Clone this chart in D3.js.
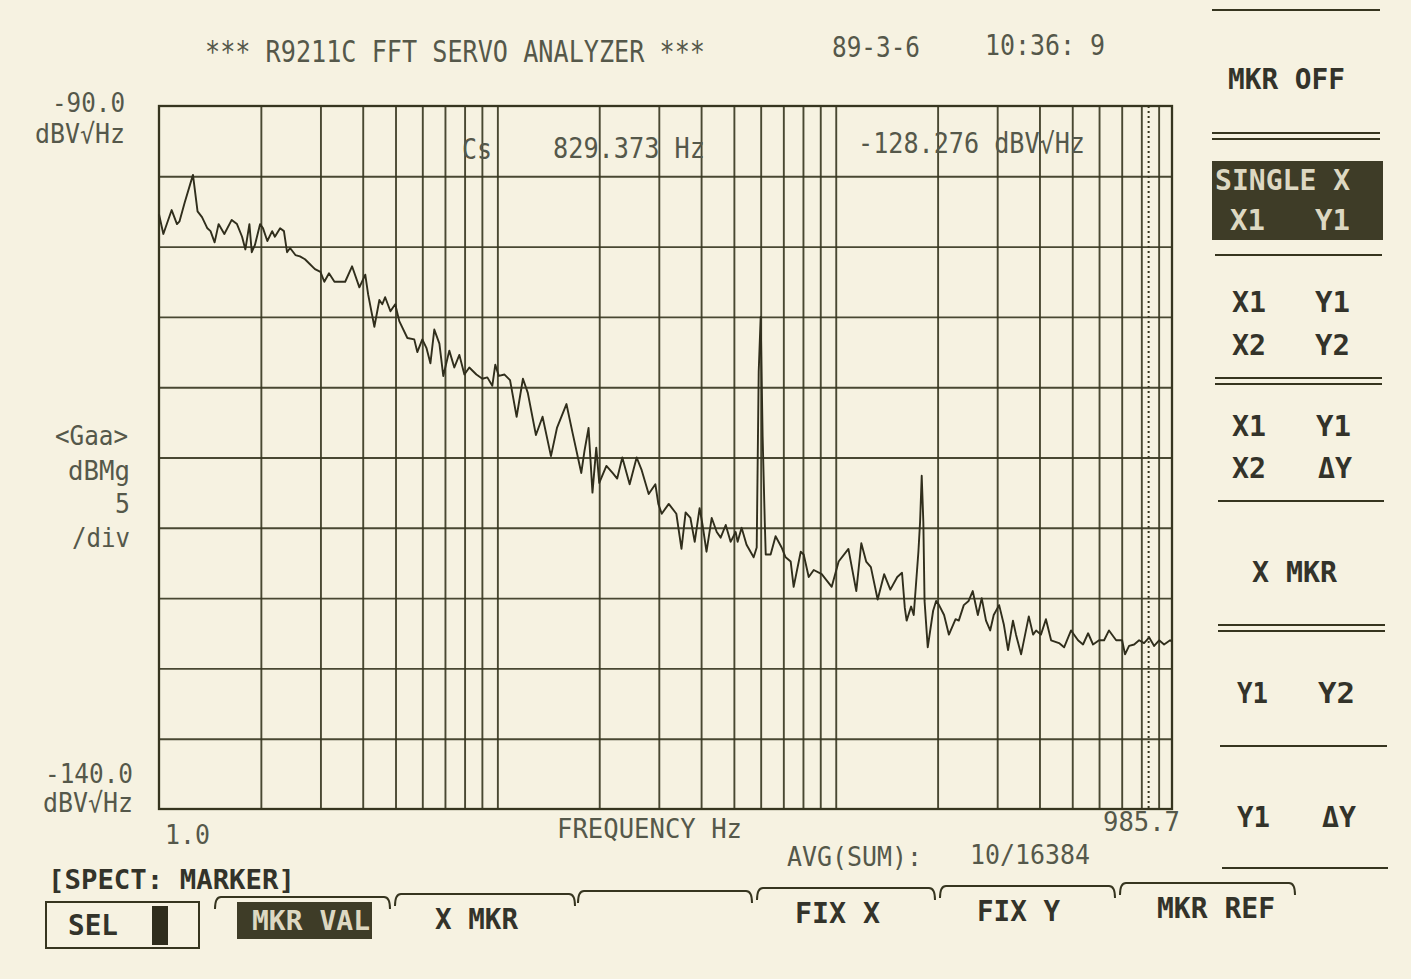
<!DOCTYPE html>
<html><head><meta charset="utf-8">
<script src="https://cdn.jsdelivr.net/npm/d3@7"></script>
<style>
html,body{margin:0;padding:0;background:#f6f2e1;}
svg{display:block;}
</style></head><body>
<svg id="c" width="1411" height="979"></svg>
<script>
// ---------------- data ----------------
const freqHz = [
 1.00,1.03,1.09,1.13,1.15,1.19,1.26,1.30,1.34,1.39,1.42,1.46,1.50,1.56,1.64,1.70,1.76,1.80,1.85,1.88,
 1.92,1.99,2.03,2.09,2.16,2.20,2.28,2.34,2.39,2.44,2.53,2.61,2.70,2.78,2.89,3.00,3.08,3.18,3.30,3.55,
 3.72,3.91,4.07,4.15,4.33,4.48,4.57,4.66,4.83,4.99,
 5.13,5.42,5.68,5.80,6.00,6.17,6.34,6.51,6.74,6.92,7.21,7.46,7.72,7.99,8.26,8.67,9.03,9.34,9.66,9.86,
 10.1,10.5,10.9,11.4,11.9,12.3,13.0,13.6,14.4,15.0,16.0,16.7,17.7,18.1,18.6,19.1,19.6,20.0,21.0,21.9,
 22.6,23.4,24.6,25.8,26.7,
 28.0,29.3,29.9,30.6,32.1,33.8,35.0,36.0,37.2,38.3,39.6,40.4,41.5,43.0,44.5,45.7,47.3,48.9,50.6,51.3,
 52.7,54.5,57.2,58.4,59.2,60.0,60.8,61.7,62.1,64.2,66.4,69.2,71.1,73.6,75.1,78.8,80.4,83.2,86.1,90.9,
 97.3,102,109,115,119,123,127,133,139,
 145,152,157,160,162,167,170,175.5,177.5,179.5,181.5,183,187,194,198,202,209,216,226,231,
 239,247,254,263,270,278,286,293,304,314,323,334,341,353,372,383,391,404,418,433,
 457,473,496,520,538,557,576,600,621,642,674,702,716,736,762,788,815,844,873,903,
 934,973,985.7
];
const levelDb = [
 -97.7,-99.1,-97.4,-98.4,-98.2,-96.9,-94.9,-97.5,-97.9,-98.7,-98.9,-99.7,-98.4,-99.1,-98.1,-98.4,-99.3,-100.2,-98.4,-100.4,
 -99.9,-98.4,-98.7,-99.6,-98.9,-99.3,-98.7,-98.9,-100.4,-100.1,-100.6,-100.7,-100.9,-101.2,-101.6,-101.8,-102.5,-101.9,-102.5,-102.5,
 -101.4,-102.9,-102.0,-103.4,-105.7,-103.8,-104.1,-103.6,-104.6,-104.1,
 -105.3,-106.5,-106.6,-107.5,-106.6,-107.2,-108.3,-105.9,-106.9,-109.2,-107.4,-108.6,-107.7,-109.1,-108.6,-109.1,-109.4,-109.3,-109.9,-108.4,
 -109.2,-109.1,-109.5,-112.1,-109.4,-110.4,-113.4,-112.1,-114.9,-112.9,-111.2,-113.3,-116.1,-114.5,-112.9,-117.5,-114.3,-116.8,-115.6,-116.1,
 -116.5,-115.0,-116.9,-115.0,-115.9,
 -117.6,-116.9,-118.3,-119.0,-118.3,-119.0,-121.5,-118.9,-119.3,-121.0,-118.6,-119.8,-121.7,-119.3,-120.3,-120.7,-119.8,-121.0,-120.3,-121.0,
 -120.0,-121.2,-122.1,-121.4,-108.9,-105.0,-113.5,-119.6,-121.9,-121.9,-120.6,-121.4,-122.1,-122.4,-124.2,-121.7,-121.9,-123.5,-123.0,-123.3,
 -124.2,-122.4,-121.5,-124.5,-121.1,-122.4,-122.8,-125.1,-123.3,
 -124.4,-123.5,-123.2,-125.7,-126.6,-125.6,-126.2,-121.7,-119.6,-116.3,-119.6,-125.2,-128.5,-125.9,-125.2,-125.5,-126.2,-127.6,-126.5,-126.6,
 -125.5,-125.2,-124.5,-126.2,-125.0,-126.6,-127.3,-126.2,-125.5,-126.9,-128.7,-126.6,-127.6,-129.0,-126.3,-127.6,-127.3,-127.6,-126.5,-128.0,
 -128.2,-128.5,-127.3,-128.0,-128.3,-127.5,-128.3,-128.0,-128.0,-127.3,-128.0,-128.0,-129.0,-128.4,-128.3,-128.0,-128.2,-127.8,-128.4,-128.0,
 -128.3,-128.0,-128.1
];
const xDomain = [1.0, 985.7];
const yDomain = [-140, -90];
const gridFreqs = [2,3,4,5,6,7,8,9,10,20,30,40,50,60,70,80,90,100,200,300,400,500,600,700,800,900];
const levelTicks = [-135,-130,-125,-120,-115,-110,-105,-100,-95];
const yEndLabels = ["-90.0", "-140.0"];
const xEndLabels = ["1.0", "985.7"];
const markerHz = 829.373;
const markerText = ["Cs", "829.373 Hz", "-128.276 dBV\u221AHz"];
const menuRight = [["X1","Y1"],["X2","Y2"],["X1","Y1"],["X2","\u0394Y"],["Y1","Y2"],["Y1","\u0394Y"]];
const softKeys = ["MKR VAL","X MKR","","FIX X","FIX Y","MKR REF"];

// ---------------- drawing ----------------
const svg = d3.select("#c");
const INK = "#36351f", TXT = "#55584a", BOLD = "#33332a", PAPER = "#f6f2e1";
svg.append("rect").attr("width",1411).attr("height",979).attr("fill",PAPER);

const L=159, R=1172, T=106, B=809;
const x = d3.scaleLog().domain(xDomain).range([L,R]);
const y = d3.scaleLinear().domain(yDomain).range([B,T]);

// grid via axes
const gx = svg.append("g").attr("transform",`translate(0,${B})`)
  .call(d3.axisBottom(x).tickValues(gridFreqs).tickSize(-(B-T)).tickFormat(""));
const gy = svg.append("g").attr("transform",`translate(${L},0)`)
  .call(d3.axisLeft(y).tickValues(levelTicks).tickSize(-(R-L)).tickFormat(""));
[gx,gy].forEach(g=>{
  g.select(".domain").remove();
  g.selectAll(".tick line").attr("stroke",INK).attr("stroke-width",1.9).attr("opacity",0.9);
});
svg.append("rect").attr("x",L).attr("y",T).attr("width",R-L).attr("height",B-T)
  .attr("fill","none").attr("stroke",INK).attr("stroke-width",2.3);

// marker dotted line
svg.append("line").attr("x1",x(markerHz)+2).attr("x2",x(markerHz)+2).attr("y1",T).attr("y2",B)
  .attr("stroke",INK).attr("stroke-width",2).attr("stroke-dasharray","2,3");

// trace
const pts = freqHz.map((f,i)=>[f, levelDb[i]]);
svg.append("path").datum(pts)
  .attr("d", d3.line().x(d=>x(d[0])).y(d=>y(d[1])))
  .attr("fill","none").attr("stroke","#302e1c").attr("stroke-width",1.9).attr("stroke-linejoin","round");

// text helper
function label(str, x1, x2, base, size, opt={}){
  const t = svg.append("text").attr("x",x1).attr("y",base)
    .attr("font-family", "'DejaVu Sans Mono', monospace")
    .attr("font-size", size)
    .attr("font-weight", opt.bold ? "bold" : "normal")
    .attr("fill", opt.fill || (opt.bold ? BOLD : TXT))
    .text(str);
  if (x2 !== null) t.attr("textLength", x2-x1).attr("lengthAdjust","spacingAndGlyphs");
  return t;
}

// header
label("*** R9211C FFT SERVO ANALYZER ***", 205, 705, 62, 31);
label("89-3-6", 832, 920, 57, 29);
label("10:36: 9", 985, 1105, 55, 29);

// left axis labels
label(yEndLabels[0], 52, 125, 112, 27);
label("dBV\u221AHz", 35, 125, 143, 27);
label("<Gaa>", 55, 128, 445, 27);
label("dBMg", 68, 130, 480, 27);
label("5", 115, 130, 513, 27);
label("/div", 72, 130, 547, 27);
label(yEndLabels[1], 45, 133, 783, 27);
label("dBV\u221AHz", 43, 133, 812, 27);

// in-plot marker readout
label(markerText[0], 462, 492, 159, 28);
label(markerText[1], 553, 705, 158, 28);
label(markerText[2], 858, 1085, 153, 28);

// x axis labels
label(xEndLabels[0], 165, 210, 844, 27);
label("FREQUENCY Hz", 557, 742, 838, 27);
label(xEndLabels[1], 1103, 1180, 831, 27);
label("AVG(SUM):", 787, 922, 866, 26);
label("10/16384", 970, 1090, 864, 26);
label("[SPECT: MARKER]", 48, 295, 889, 27, {bold:true});

// right menu
function hline(x1,x2,yy,w=2){
  svg.append("line").attr("x1",x1).attr("x2",x2).attr("y1",yy).attr("y2",yy)
    .attr("stroke",INK).attr("stroke-width",w);
}
hline(1212,1380,10);
label("MKR OFF", 1228, 1345, 89, 28, {bold:true});
hline(1212,1380,133); hline(1212,1380,139);
svg.append("rect").attr("x",1212).attr("y",161).attr("width",171).attr("height",79).attr("fill","#3e3c27");
label("SINGLE X", 1215, 1350, 190, 28, {bold:true, fill:"#ddd8c2"});
label("X1", 1230, 1265, 230, 28, {bold:true, fill:"#ddd8c2"});
label("Y1", 1315, 1350, 230, 28, {bold:true, fill:"#ddd8c2"});
hline(1215,1382,255);
label(menuRight[0][0], 1232, 1266, 312, 28, {bold:true});
label(menuRight[0][1], 1315, 1350, 312, 28, {bold:true});
label(menuRight[1][0], 1232, 1266, 355, 28, {bold:true});
label(menuRight[1][1], 1315, 1350, 355, 28, {bold:true});
hline(1215,1382,378); hline(1215,1382,384);
label(menuRight[2][0], 1232, 1266, 436, 28, {bold:true});
label(menuRight[2][1], 1316, 1351, 436, 28, {bold:true});
label(menuRight[3][0], 1232, 1266, 478, 28, {bold:true});
label(menuRight[3][1], 1318, 1352, 478, 28, {bold:true});
hline(1218,1384,501);
label("X MKR", 1252, 1337, 582, 28, {bold:true});
hline(1218,1385,625); hline(1218,1385,631);
label(menuRight[4][0], 1237, 1268, 703, 28, {bold:true});
label(menuRight[4][1], 1318, 1355, 703, 28, {bold:true});
hline(1220,1387,746);
label(menuRight[5][0], 1237, 1270, 827, 28, {bold:true});
label(menuRight[5][1], 1322, 1356, 827, 28, {bold:true});
hline(1222,1388,868);

// soft keys
svg.append("rect").attr("x",46).attr("y",902).attr("width",153).attr("height",46)
  .attr("fill","none").attr("stroke",INK).attr("stroke-width",2);
label("SEL", 68, 118, 935, 28, {bold:true});
svg.append("rect").attr("x",152).attr("y",906).attr("width",16).attr("height",39).attr("fill","#2f2d1c");

const keyPos = [[215,390,897],[395,575,894],[578,752,891],[757,935,888],[940,1115,886],[1120,1295,883]];
keyPos.forEach(([a,b,yy])=>{
  svg.append("path").attr("d",`M${a},${yy+12} Q${a},${yy} ${a+6},${yy} L${b-6},${yy} Q${b},${yy} ${b},${yy+12}`)
    .attr("fill","none").attr("stroke",INK).attr("stroke-width",2);
});
svg.append("rect").attr("x",237).attr("y",902).attr("width",135).attr("height",37).attr("fill","#3e3c27");
label(softKeys[0], 252, 370, 930, 27, {bold:true, fill:"#ddd8c2"});
label(softKeys[1], 435, 518, 929, 28, {bold:true});
label(softKeys[3], 795, 880, 923, 28, {bold:true});
label(softKeys[4], 977, 1060, 921, 28, {bold:true});
label(softKeys[5], 1157, 1275, 918, 28, {bold:true});
</script>
</body></html>
